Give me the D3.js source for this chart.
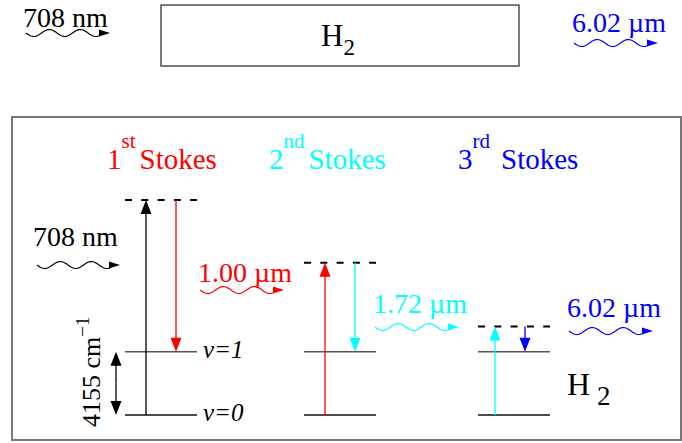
<!DOCTYPE html>
<html>
<head>
<meta charset="utf-8">
<script src="https://cdn.jsdelivr.net/npm/d3@7"></script>
<style>
body { margin: 0; background: #fff; }
svg text { font-family: "Liberation Serif", "DejaVu Serif", serif; }
</style>
</head>
<body>
<svg id="chart" width="682" height="443" font-family="Liberation Serif, serif"></svg>
<script>
// data
var pumpNm = 708;
var stokesUm = [1.00, 1.72, 6.02];
var stokesLabels = ["1.00 \u00b5m", "1.72 \u00b5m", "6.02 \u00b5m"];
var ordinals = ["1", "2", "3"];
var ordinalSup = ["st", "nd", "rd"];
var stokesColors = ["#ff0000", "#00ffff", "#0000ff"];
var vibShift = 4155; // cm-1, H2 v=0 -> v=1
var levelNames = ["v=0", "v=1"];

// layout
var colLeft = [125, 304, 478],
  colWidth = 72,
  titleX = [107, 269, 458];

var svg = d3.select("#chart");

// energies in cm-1
var pumpWn = 1e7 / pumpNm;
var stokesWn = stokesUm.map(function(d) { return 1e4 / d; });
var virtualWn = [pumpWn, stokesWn[0], stokesWn[1]];
var upColors = ["#000", stokesColors[0], stokesColors[1]];

var y = d3.scaleLinear().domain([0, pumpWn]).range([415, 200]);
var x = d3.scaleOrdinal().domain([0, 1, 2]).range(colLeft);

function wavy(g, x0, x1, yy, color) {
  var pts = d3.range(x0, x1 - 9, 1).map(function(px) {
    return [px, yy + 3.5 * Math.sin(2 * Math.PI * (px - x0) / 31)];
  });
  g.append("path")
    .attr("d", d3.line()(pts))
    .attr("fill", "none")
    .attr("stroke", color)
    .attr("stroke-width", 1.2);
  g.append("path")
    .attr("d", "M" + x1 + "," + yy + "L" + (x1 - 11) + "," + (yy - 3.5) + "L" + (x1 - 11) + "," + (yy + 3.5) + "Z")
    .attr("fill", color);
}

function vArrow(g, xx, yFrom, yTo, color) {
  var dir = yTo < yFrom ? 1 : -1;
  g.append("line")
    .attr("x1", xx).attr("x2", xx)
    .attr("y1", yFrom).attr("y2", yTo + dir * 10)
    .attr("stroke", color).attr("stroke-width", 1.3);
  g.append("path")
    .attr("d", "M" + xx + "," + yTo + "L" + (xx - 5.5) + "," + (yTo + dir * 14) + "L" + (xx + 5.5) + "," + (yTo + dir * 14) + "Z")
    .attr("fill", color);
}

// ---- top: cell sketch ----
var cell = svg.append("g");
cell.append("rect")
  .attr("x", 161).attr("y", 5).attr("width", 358).attr("height", 61)
  .attr("fill", "none").attr("stroke", "#333").attr("stroke-width", 1.3);
var h2 = cell.append("text").attr("x", 321).attr("y", 46).attr("font-size", 31);
h2.append("tspan").text("H");
h2.append("tspan").attr("dy", 9).attr("font-size", 23).text("2");

cell.append("text").attr("x", 23).attr("y", 27).attr("font-size", 28).text(pumpNm + " nm");
wavy(cell, 26, 110, 33, "#000");
cell.append("text").attr("x", 572).attr("y", 32).attr("font-size", 28)
  .attr("fill", stokesColors[2]).text(stokesLabels[2]);
wavy(cell, 574, 658, 43, stokesColors[2]);

// ---- level diagram ----
svg.append("rect")
  .attr("x", 12).attr("y", 117).attr("width", 669).attr("height", 323)
  .attr("fill", "none").attr("stroke", "#777").attr("stroke-width", 2);

var g = svg.append("g");

// titles
ordinals.forEach(function(o, i) {
  var t = g.append("text").attr("x", titleX[i]).attr("y", 169)
    .attr("font-size", 29).attr("fill", stokesColors[i]);
  t.append("tspan").text(o);
  t.append("tspan").attr("dy", -21).attr("font-size", 21).text(ordinalSup[i]);
  t.append("tspan").attr("dy", 21).attr("dx", i === 2 ? 11 : 4).text("Stokes");
});

// vibrational levels
[0, 1, 2].forEach(function(i) {
  [0, vibShift].forEach(function(e) {
    g.append("line")
      .attr("x1", x(i)).attr("x2", x(i) + colWidth)
      .attr("y1", y(e)).attr("y2", y(e))
      .attr("stroke", e === 0 ? "#111" : "#555").attr("stroke-width", 1.4);
  });
  // virtual level
  g.append("line")
    .attr("x1", x(i)).attr("x2", x(i) + colWidth)
    .attr("y1", y(virtualWn[i])).attr("y2", y(virtualWn[i]))
    .attr("stroke", "#000").attr("stroke-width", 2)
    .attr("stroke-dasharray", "7,9.3");
  var up = i === 2 ? 17 : 21, down = i === 2 ? 47 : 51;
  vArrow(g, x(i) + up, y(0), y(virtualWn[i]), upColors[i]);
  vArrow(g, x(i) + down, y(virtualWn[i]), y(vibShift), stokesColors[i]);
});

levelNames.forEach(function(n, i) {
  g.append("text").attr("x", 203).attr("y", y(i * vibShift) + 6)
    .attr("font-size", 25).attr("font-style", "italic").text(n);
});

// shift marker
vArrow(g, 116, (y(0) + y(vibShift)) / 2, y(vibShift), "#000");
vArrow(g, 116, (y(0) + y(vibShift)) / 2, y(0), "#000");
var rl = g.append("text").attr("transform", "translate(100,427) rotate(-90)").attr("font-size", 26);
rl.append("tspan").text(vibShift + " cm");
rl.append("tspan").attr("dy", -11).attr("font-size", 19).text("\u22121");

// photon labels
g.append("text").attr("x", 33).attr("y", 246).attr("font-size", 28).text(pumpNm + " nm");
wavy(g, 37, 120, 265, "#000");
var photonX = [198, 373, 567], photonY = [282, 313, 317];
stokesLabels.forEach(function(l, i) {
  g.append("text").attr("x", photonX[i]).attr("y", photonY[i])
    .attr("font-size", 28).attr("fill", stokesColors[i]).text(l);
  wavy(g, photonX[i] + 2, photonX[i] + 86, photonY[i] + (i === 0 ? 8 : 14), stokesColors[i]);
});

var h = g.append("text").attr("x", 567).attr("y", 395).attr("font-size", 32);
h.append("tspan").text("H");
h.append("tspan").attr("dx", 7).attr("dy", 10).attr("font-size", 27).text("2");
</script>
</body>
</html>
